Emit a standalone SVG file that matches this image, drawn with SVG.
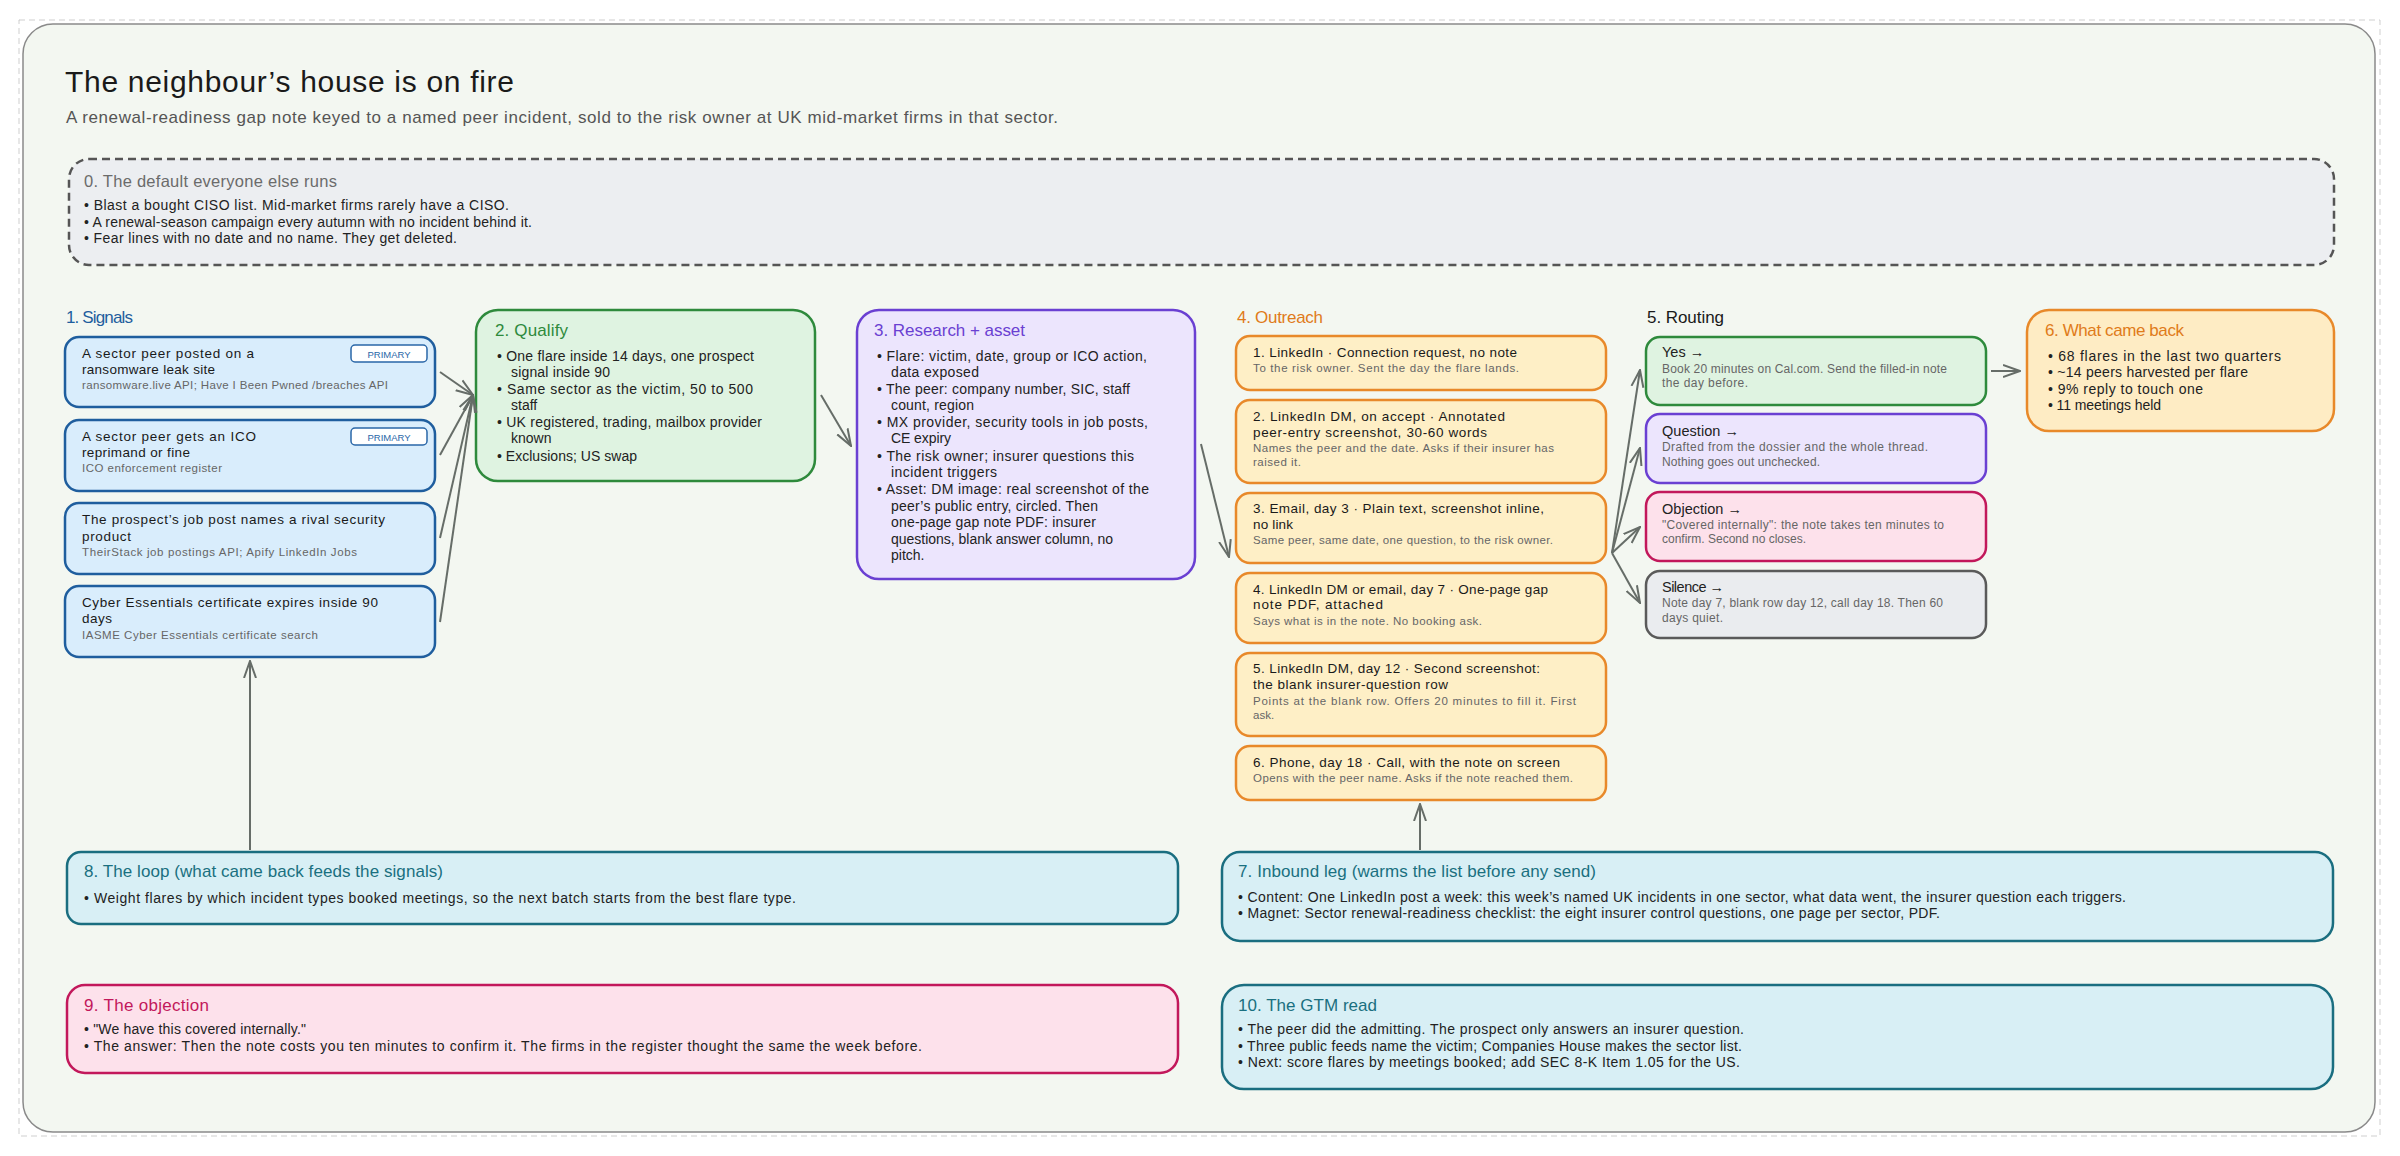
<svg xmlns="http://www.w3.org/2000/svg" width="2400" height="1156" viewBox="0 0 2400 1156">
<defs>
<style>
text{font-family:"Liberation Sans","Noto Sans",sans-serif}
.title{font-size:30px;fill:#1a1a1a}
.subt{font-size:17px;fill:#555}
.h0{font-size:16.5px;fill:#6b6b6b}
.b{font-size:14px;fill:#222}
.h{font-size:17px}
.m{font-size:13.5px;fill:#1a1a1a}
.s{font-size:11.5px;fill:#666}
.rt{font-size:14.5px;fill:#222}
.rs{font-size:12px;fill:#666}
.badge{fill:#fff;stroke:#2a67a8;stroke-width:1.5}
.bt{font-size:9.5px;fill:#2a67a8}
.blue{fill:#d9edfc;stroke:#1f5e9e;stroke-width:2.5}
.green{fill:#dff3e1;stroke:#2e8a3c;stroke-width:2.5}
.purple{fill:#ece5fd;stroke:#6a40d2;stroke-width:2.5}
.orange{fill:#feefc6;stroke:#e8892a;stroke-width:2.5}
.pink{fill:#fde1eb;stroke:#c2185b;stroke-width:2.5}
.grey{fill:#eaecef;stroke:#5a5a5a;stroke-width:2.5}
.teal{fill:#d8eff5;stroke:#1a6e80;stroke-width:2.5}
.conn line{stroke:#666d68;stroke-width:2;marker-end:url(#ah)}
</style>
<marker id="ah" viewBox="0 0 18 16" refX="17" refY="8" markerWidth="18" markerHeight="16" orient="auto" markerUnits="userSpaceOnUse">
<path d="M0,2 L17,8 L0,14" fill="none" stroke="#666d68" stroke-width="2"/>
</marker>
</defs>

<rect x="0" y="0" width="2400" height="1156" fill="#ffffff"/>
<rect x="19" y="20" width="2361" height="1116" fill="none" stroke="#cfcfcf" stroke-width="1" stroke-dasharray="6 4"/>
<rect x="23" y="24" width="2352" height="1108" rx="30" fill="#f3f7f1" stroke="#8a8a8a" stroke-width="1.5"/>

<g id="header">
<text class="title" x="65" y="92" textLength="449">The neighbour’s house is on fire</text>
<text class="subt" x="66" y="123" textLength="992">A renewal-readiness gap note keyed to a named peer incident, sold to the risk owner at UK mid-market firms in that sector.</text>
</g>

<g id="n0-default">
<rect x="69" y="159" width="2265" height="106" rx="20" fill="#eceef1" stroke="#555" stroke-width="2.5" stroke-dasharray="8 5"/>
<text class="h0" x="84" y="187" textLength="253">0. The default everyone else runs</text>
<text class="b" x="84" y="210" textLength="425">• Blast a bought CISO list. Mid-market firms rarely have a CISO.</text>
<text class="b" x="84" y="227" textLength="448">• A renewal-season campaign every autumn with no incident behind it.</text>
<text class="b" x="84" y="243" textLength="373">• Fear lines with no date and no name. They get deleted.</text>
</g>

<g id="n1-signals">
<text class="h" x="66" y="323" fill="#1f5e9e" textLength="67">1. Signals</text>
</g>
<g id="s1">
<rect class="blue" x="65" y="337" width="370" height="70" rx="14"/>
<rect class="badge" x="351" y="345" width="76" height="17" rx="4"/>
<text class="bt" x="389" y="357.5" text-anchor="middle" textLength="43">PRIMARY</text>
<text class="m" x="82" y="358" textLength="172">A sector peer posted on a</text>
<text class="m" x="82" y="374" textLength="133">ransomware leak site</text>
<text class="s" x="82" y="389" textLength="306">ransomware.live API; Have I Been Pwned /breaches API</text>
</g>
<g id="s2">
<rect class="blue" x="65" y="420" width="370" height="71" rx="14"/>
<rect class="badge" x="351" y="428" width="76" height="17" rx="4"/>
<text class="bt" x="389" y="440.5" text-anchor="middle" textLength="43">PRIMARY</text>
<text class="m" x="82" y="441" textLength="174">A sector peer gets an ICO</text>
<text class="m" x="82" y="457" textLength="108">reprimand or fine</text>
<text class="s" x="82" y="472" textLength="140">ICO enforcement register</text>
</g>
<g id="s3">
<rect class="blue" x="65" y="503" width="370" height="71" rx="14"/>
<text class="m" x="82" y="524" textLength="303">The prospect’s job post names a rival security</text>
<text class="m" x="82" y="541" textLength="49">product</text>
<text class="s" x="82" y="556" textLength="275">TheirStack job postings API; Apify LinkedIn Jobs</text>
</g>
<g id="s4">
<rect class="blue" x="65" y="586" width="370" height="71" rx="14"/>
<text class="m" x="82" y="607" textLength="296">Cyber Essentials certificate expires inside 90</text>
<text class="m" x="82" y="623" textLength="30">days</text>
<text class="s" x="82" y="639" textLength="236">IASME Cyber Essentials certificate search</text>
</g>

<g id="n2-qualify">
<rect class="green" x="476" y="310" width="339" height="171" rx="22"/>
<text class="h" x="495" y="336" fill="#2e8a3c" textLength="73">2. Qualify</text>
<text class="b" x="497" y="361" textLength="257">• One flare inside 14 days, one prospect</text>
<text class="b" x="511" y="377" textLength="99">signal inside 90</text>
<text class="b" x="497" y="394" textLength="256">• Same sector as the victim, 50 to 500</text>
<text class="b" x="511" y="410">staff</text>
<text class="b" x="497" y="427" textLength="265">• UK registered, trading, mailbox provider</text>
<text class="b" x="511" y="443">known</text>
<text class="b" x="497" y="461" textLength="140">• Exclusions; US swap</text>
</g>

<g id="n3-research">
<rect class="purple" x="857" y="310" width="338" height="269" rx="22"/>
<text class="h" x="874" y="336" fill="#6a40d2" textLength="151">3. Research + asset</text>
<text class="b" x="877" y="361" textLength="270">• Flare: victim, date, group or ICO action,</text>
<text class="b" x="891" y="377" textLength="88">data exposed</text>
<text class="b" x="877" y="394" textLength="253">• The peer: company number, SIC, staff</text>
<text class="b" x="891" y="410" textLength="83">count, region</text>
<text class="b" x="877" y="427" textLength="271">• MX provider, security tools in job posts,</text>
<text class="b" x="891" y="443" textLength="60">CE expiry</text>
<text class="b" x="877" y="461" textLength="257">• The risk owner; insurer questions this</text>
<text class="b" x="891" y="477" textLength="106">incident triggers</text>
<text class="b" x="877" y="494" textLength="272">• Asset: DM image: real screenshot of the</text>
<text class="b" x="891" y="511" textLength="207">peer’s public entry, circled. Then</text>
<text class="b" x="891" y="527" textLength="205">one-page gap note PDF: insurer</text>
<text class="b" x="891" y="544" textLength="222">questions, blank answer column, no</text>
<text class="b" x="891" y="560">pitch.</text>
</g>

<g id="n4-outreach">
<text class="h" x="1237" y="323" fill="#e07b1a" textLength="86">4. Outreach</text>
</g>
<g id="o1">
<rect class="orange" x="1236" y="336" width="370" height="54" rx="14"/>
<text class="m" x="1253" y="357" textLength="264">1. LinkedIn · Connection request, no note</text>
<text class="s" x="1253" y="372" textLength="266">To the risk owner. Sent the day the flare lands.</text>
</g>
<g id="o2">
<rect class="orange" x="1236" y="400" width="370" height="83" rx="14"/>
<text class="m" x="1253" y="421" textLength="252">2. LinkedIn DM, on accept · Annotated</text>
<text class="m" x="1253" y="437" textLength="234">peer-entry screenshot, 30-60 words</text>
<text class="s" x="1253" y="452" textLength="301">Names the peer and the date. Asks if their insurer has</text>
<text class="s" x="1253" y="466" textLength="48">raised it.</text>
</g>
<g id="o3">
<rect class="orange" x="1236" y="493" width="370" height="70" rx="14"/>
<text class="m" x="1253" y="513" textLength="291">3. Email, day 3 · Plain text, screenshot inline,</text>
<text class="m" x="1253" y="529" textLength="40">no link</text>
<text class="s" x="1253" y="544" textLength="300">Same peer, same date, one question, to the risk owner.</text>
</g>
<g id="o4">
<rect class="orange" x="1236" y="573" width="370" height="70" rx="14"/>
<text class="m" x="1253" y="594" textLength="295">4. LinkedIn DM or email, day 7 · One-page gap</text>
<text class="m" x="1253" y="609" textLength="130">note PDF, attached</text>
<text class="s" x="1253" y="625" textLength="229">Says what is in the note. No booking ask.</text>
</g>
<g id="o5">
<rect class="orange" x="1236" y="653" width="370" height="83" rx="14"/>
<text class="m" x="1253" y="673" textLength="287">5. LinkedIn DM, day 12 · Second screenshot:</text>
<text class="m" x="1253" y="689" textLength="195">the blank insurer-question row</text>
<text class="s" x="1253" y="705" textLength="323">Points at the blank row. Offers 20 minutes to fill it. First</text>
<text class="s" x="1253" y="719">ask.</text>
</g>
<g id="o6">
<rect class="orange" x="1236" y="746" width="370" height="54" rx="14"/>
<text class="m" x="1253" y="767" textLength="307">6. Phone, day 18 · Call, with the note on screen</text>
<text class="s" x="1253" y="782" textLength="320">Opens with the peer name. Asks if the note reached them.</text>
</g>

<g id="n5-routing">
<text class="h" x="1647" y="323" fill="#1a1a1a" textLength="77">5. Routing</text>
</g>
<g id="r-yes">
<rect class="green" x="1646" y="337" width="340" height="68" rx="14"/>
<text class="rt" x="1662" y="357">Yes →</text>
<text class="rs" x="1662" y="373" textLength="285">Book 20 minutes on Cal.com. Send the filled-in note</text>
<text class="rs" x="1662" y="387" textLength="86">the day before.</text>
</g>
<g id="r-question">
<rect class="purple" x="1646" y="414" width="340" height="69" rx="14"/>
<text class="rt" x="1662" y="436" textLength="77">Question →</text>
<text class="rs" x="1662" y="451" textLength="266">Drafted from the dossier and the whole thread.</text>
<text class="rs" x="1662" y="466" textLength="158">Nothing goes out unchecked.</text>
</g>
<g id="r-objection">
<rect class="pink" x="1646" y="492" width="340" height="69" rx="14"/>
<text class="rt" x="1662" y="514" textLength="80">Objection →</text>
<text class="rs" x="1662" y="529" textLength="282">"Covered internally": the note takes ten minutes to</text>
<text class="rs" x="1662" y="543" textLength="144">confirm. Second no closes.</text>
</g>
<g id="r-silence">
<rect class="grey" x="1646" y="571" width="340" height="67" rx="14"/>
<text class="rt" x="1662" y="592" textLength="62">Silence →</text>
<text class="rs" x="1662" y="607" textLength="281">Note day 7, blank row day 12, call day 18. Then 60</text>
<text class="rs" x="1662" y="622" textLength="61">days quiet.</text>
</g>

<g id="n6-came-back">
<rect class="orange" x="2027" y="310" width="307" height="121" rx="22" style="fill:#feecc4"/>
<text class="h" x="2045" y="336" fill="#e07b1a" textLength="139">6. What came back</text>
<text class="b" x="2048" y="361" textLength="233">• 68 flares in the last two quarters</text>
<text class="b" x="2048" y="377" textLength="200">• ~14 peers harvested per flare</text>
<text class="b" x="2048" y="394" textLength="155">• 9% reply to touch one</text>
<text class="b" x="2048" y="410" textLength="113">• 11 meetings held</text>
</g>

<g id="n8-loop">
<rect class="teal" x="67" y="852" width="1111" height="72" rx="14"/>
<text class="h" x="84" y="877" fill="#1a7080" textLength="359">8. The loop (what came back feeds the signals)</text>
<text class="b" x="84" y="903" textLength="712">• Weight flares by which incident types booked meetings, so the next batch starts from the best flare type.</text>
</g>

<g id="n7-inbound">
<rect class="teal" x="1222" y="852" width="1111" height="89" rx="18"/>
<text class="h" x="1238" y="877" fill="#1a7080" textLength="358">7. Inbound leg (warms the list before any send)</text>
<text class="b" x="1238" y="902" textLength="888">• Content: One LinkedIn post a week: this week’s named UK incidents in one sector, what data went, the insurer question each triggers.</text>
<text class="b" x="1238" y="918" textLength="702">• Magnet: Sector renewal-readiness checklist: the eight insurer control questions, one page per sector, PDF.</text>
</g>

<g id="n9-objection">
<rect class="pink" x="67" y="985" width="1111" height="88" rx="18"/>
<text class="h" x="84" y="1011" fill="#c2185b" textLength="125">9. The objection</text>
<text class="b" x="84" y="1034" textLength="222">• "We have this covered internally."</text>
<text class="b" x="84" y="1051" textLength="838">• The answer: Then the note costs you ten minutes to confirm it. The firms in the register thought the same the week before.</text>
</g>

<g id="n10-gtm">
<rect class="teal" x="1222" y="985" width="1111" height="104" rx="22"/>
<text class="h" x="1238" y="1011" fill="#1a7080" textLength="139">10. The GTM read</text>
<text class="b" x="1238" y="1034" textLength="506">• The peer did the admitting. The prospect only answers an insurer question.</text>
<text class="b" x="1238" y="1051" textLength="504">• Three public feeds name the victim; Companies House makes the sector list.</text>
<text class="b" x="1238" y="1067" textLength="502">• Next: score flares by meetings booked; add SEC 8-K Item 1.05 for the US.</text>
</g>

<g id="connectors" class="conn">
<line x1="440" y1="372" x2="473" y2="395"/>
<line x1="440" y1="455" x2="473" y2="395"/>
<line x1="440" y1="538" x2="473" y2="395"/>
<line x1="440" y1="622" x2="473" y2="395"/>
<line x1="821" y1="395" x2="851" y2="446"/>
<line x1="1201" y1="444" x2="1229" y2="557"/>
<line x1="1612" y1="553" x2="1640" y2="370"/>
<line x1="1612" y1="553" x2="1640" y2="448"/>
<line x1="1612" y1="553" x2="1640" y2="527"/>
<line x1="1612" y1="553" x2="1640" y2="603"/>
<line x1="1991" y1="371" x2="2020" y2="371"/>
<line x1="250" y1="850" x2="250" y2="661"/>
<line x1="1420" y1="850" x2="1420" y2="804"/>
</g>
</svg>
